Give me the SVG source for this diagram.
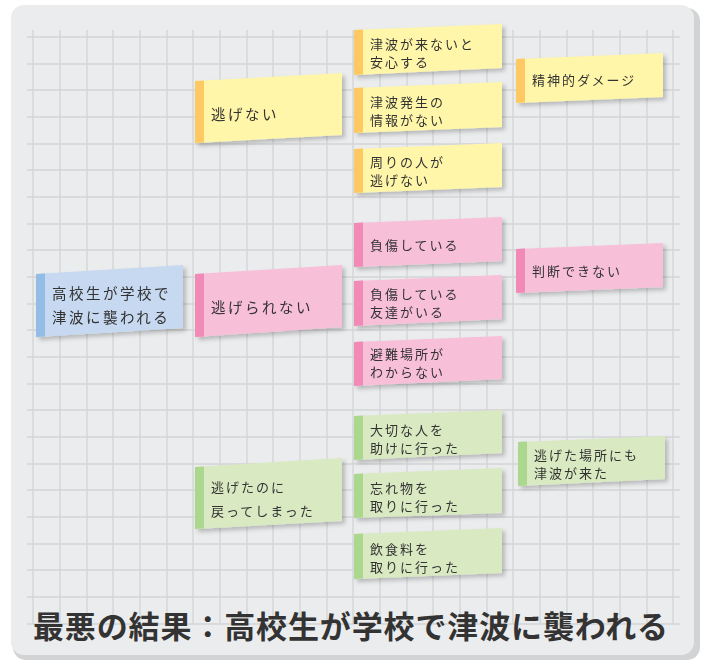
<svg xmlns="http://www.w3.org/2000/svg" width="701" height="661" viewBox="0 0 701 661">
<defs>
<filter id="sh" x="-10%" y="-10%" width="130%" height="140%">
<feDropShadow dx="3" dy="3" stdDeviation="2" flood-color="#000" flood-opacity="0.22"/>
</filter>
</defs>
<style>
.grid{stroke:#d3d4d5;stroke-width:1.3;fill:none}
.t{font-family:"Noto Sans CJK JP","Noto Sans",sans-serif;fill:#333;font-size:13px;letter-spacing:2px}
.t2{font-family:"Noto Sans CJK JP","Noto Sans",sans-serif;fill:#333;font-size:14.5px;letter-spacing:2.5px}
.ty{fill:#fff6a9}.sy{fill:#fec964}
.tp{fill:#f8bfd9}.sp{fill:#f28ab7}
.tb{fill:#c6d9f0}.sb{fill:#93bde5}
.tg{fill:#d9e9c1}.sg{fill:#acd78f}
.title{font-family:"Noto Sans CJK JP","Noto Sans",sans-serif;fill:#333;font-size:31px;font-weight:bold}
</style>
<rect width="701" height="661" fill="#fff"/>
<rect x="13" y="8" width="687" height="652" rx="13" fill="#d2d3d4"/>
<rect x="11" y="5" width="683" height="650" rx="13" fill="#ebeced"/>
<path class="grid" d="M33 30V624M60 30V624M87 30V624M113 30V624M140 30V624M167 30V624M193 30V624M220 30V624M247 30V624M273 30V624M300 30V624M327 30V624M353 30V624M380 30V624M407 30V624M433 30V624M460 30V624M487 30V624M513 30V624M540 30V624M567 30V624M593 30V624M620 30V624M647 30V624M673 30V624M27 37H680M27 64H680M27 90H680M27 117H680M27 144H680M27 170H680M27 197H680M27 224H680M27 250H680M27 277H680M27 304H680M27 330H680M27 357H680M27 384H680M27 410H680M27 437H680M27 464H680M27 490H680M27 517H680M27 544H680M27 570H680M27 597H680M27 624H680"/>
<g id="connectors"></g>

<g id="root" filter="url(#sh)">
<polygon class="tb" points="36,274 183,265 183,328 36,337"/>
<polygon class="sb" points="36,274 45,273.5 45,336.5 36,337"/>
<text class="t2" x="52" y="299">高校生が学校で</text>
<text class="t2" x="52" y="323">津波に襲われる</text>
</g>

<g id="nigenai" filter="url(#sh)">
<polygon class="ty" points="195,81 342,73 342,135 195,143"/>
<polygon class="sy" points="195,81 204,80.5 204,142.5 195,143"/>
<text class="t2" x="211" y="120">逃げない</text>
</g>
<g id="nigerarenai" filter="url(#sh)">
<polygon class="tp" points="195,274 342,265 342,327 195,337"/>
<polygon class="sp" points="195,274 204,273.5 204,336.5 195,337"/>
<text class="t2" x="211" y="313">逃げられない</text>
</g>
<g id="modotta" filter="url(#sh)">
<polygon class="tg" points="195,467 342,458 342,521 195,529"/>
<polygon class="sg" points="195,467 204,466.5 204,528.5 195,529"/>
<text class="t" x="211" y="492">逃げたのに</text>
<text class="t" x="211" y="516">戻ってしまった</text>
</g>

<g id="anshin" filter="url(#sh)">
<polygon class="ty" points="354,30 502,24 502,68 354,75"/>
<polygon class="sy" points="354,30 363,29.6 363,74.6 354,75"/>
<text class="t" x="370" y="49">津波が来ないと</text>
<text class="t" x="370" y="67">安心する</text>
</g>
<g id="jouhou" filter="url(#sh)">
<polygon class="ty" points="354,88 502,82 502,127 354,133"/>
<polygon class="sy" points="354,88 363,87.6 363,132.6 354,133"/>
<text class="t" x="370" y="107">津波発生の</text>
<text class="t" x="370" y="125">情報がない</text>
</g>
<g id="mawari" filter="url(#sh)">
<polygon class="ty" points="354,149 502,143 502,187 354,193"/>
<polygon class="sy" points="354,149 363,148.6 363,192.6 354,193"/>
<text class="t" x="370" y="167">周りの人が</text>
<text class="t" x="370" y="185">逃げない</text>
</g>
<g id="seishin" filter="url(#sh)">
<polygon class="ty" points="516,59 663,53 663,97 516,103"/>
<polygon class="sy" points="516,59 525,58.6 525,102.6 516,103"/>
<text class="t" x="532" y="85">精神的ダメージ</text>
</g>

<g id="fushou" filter="url(#sh)">
<polygon class="tp" points="354,223 502,217 502,261 354,267"/>
<polygon class="sp" points="354,223 363,222.6 363,266.6 354,267"/>
<text class="t" x="370" y="250">負傷している</text>
</g>
<g id="tomodachi" filter="url(#sh)">
<polygon class="tp" points="354,281 502,275 502,319 354,326"/>
<polygon class="sp" points="354,281 363,280.6 363,325.6 354,326"/>
<text class="t" x="370" y="299">負傷している</text>
<text class="t" x="370" y="317">友達がいる</text>
</g>
<g id="hinan" filter="url(#sh)">
<polygon class="tp" points="354,342 502,336 502,379 354,386"/>
<polygon class="sp" points="354,342 363,341.6 363,385.6 354,386"/>
<text class="t" x="370" y="359">避難場所が</text>
<text class="t" x="370" y="377">わからない</text>
</g>
<g id="handan" filter="url(#sh)">
<polygon class="tp" points="516,249 663,243 663,287 516,293"/>
<polygon class="sp" points="516,249 525,248.6 525,292.6 516,293"/>
<text class="t" x="532" y="276">判断できない</text>
</g>

<g id="taisetsu" filter="url(#sh)">
<polygon class="tg" points="354,416 502,410 502,453 354,460"/>
<polygon class="sg" points="354,416 363,415.6 363,459.6 354,460"/>
<text class="t" x="370" y="435">大切な人を</text>
<text class="t" x="370" y="453">助けに行った</text>
</g>
<g id="wasuremono" filter="url(#sh)">
<polygon class="tg" points="354,474 502,468 502,513 354,518"/>
<polygon class="sg" points="354,474 363,473.6 363,517.6 354,518"/>
<text class="t" x="370" y="493">忘れ物を</text>
<text class="t" x="370" y="511">取りに行った</text>
</g>
<g id="inshoku" filter="url(#sh)">
<polygon class="tg" points="354,534 502,528 502,573 354,579"/>
<polygon class="sg" points="354,534 363,533.6 363,578.6 354,579"/>
<text class="t" x="370" y="554">飲食料を</text>
<text class="t" x="370" y="572">取りに行った</text>
</g>
<g id="nigetabasho" filter="url(#sh)">
<polygon class="tg" points="518,442 665,436 665,479 518,486"/>
<polygon class="sg" points="518,442 527,441.6 527,485.6 518,486"/>
<text class="t" x="534" y="460">逃げた場所にも</text>
<text class="t" x="534" y="478">津波が来た</text>
</g>

<text class="title" x="33" y="638" textLength="635" lengthAdjust="spacing">最悪の結果：高校生が学校で津波に襲われる</text>
</svg>
